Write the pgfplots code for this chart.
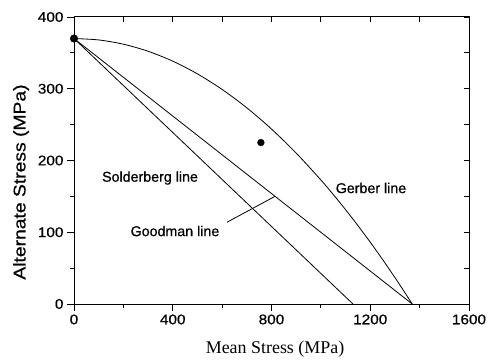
\documentclass[border=0pt]{standalone}
\usepackage{pgfplots}
\pgfplotsset{compat=1.18}
\usepackage{fontspec}
\setmainfont[FakeBold=0.5]{Liberation Sans}
\newfontfamily\annfont[FakeBold=0.6]{Liberation Sans}
\newfontfamily\tickfont[FakeStretch=1.1,FakeBold=0.6]{Liberation Sans}
\newfontfamily\ylabfont[FakeStretch=1.14,FakeBold=0.6]{Liberation Sans}
\newfontfamily\seriffont{Liberation Serif}
\begin{document}
\begin{tikzpicture}
\begin{axis}[
 at={(0,0)}, anchor=south west,
 scale only axis, width=395bp, height=287bp,
 xmin=0,xmax=1600,ymin=0,ymax=400,
 xtick={0,400,...,1600}, ytick={0,100,...,400},
 minor x tick num=1, minor y tick num=1,
 xtick pos=left, ytick pos=left, tick align=outside,
 major tick length=7bp, minor tick length=3.5bp,
 axis line style={line width=1bp},
 every tick/.style={black,line width=0.9bp},
 ticklabel style={font=\tickfont\fontsize{14}{16}\selectfont},
 /pgf/number format/assume math mode=true,
 /pgf/number format/1000 sep={},
 xlabel={Mean Stress (MPa)}, ylabel={Alternate Stress (MPa)},
 xlabel style={font=\seriffont\fontsize{18}{20}\selectfont, at={(axis description cs:0.509,-0.157)}, anchor=center},
 ylabel style={font=\ylabfont\fontsize{17}{19}\selectfont, at={(axis description cs:-0.134,0.425)}, anchor=center},
 clip=false,
]
% Gerber parabola
\addplot[black, line width=0.8bp, smooth, tension=0.5] coordinates {
 (0,370) (100,368.03) (200,362.11) (300,352.26) (400,338.46) (500,320.72)
 (600,299.04) (700,273.40) (800,243.83) (900,210.32) (1000,172.87)
 (1050,152.66) (1100,131.47) (1150,109.29) (1200,86.13) (1250,61.98)
 (1300,36.84) (1335,18.66) (1370,0)};
% Goodman line
\addplot[black, line width=0.8bp] coordinates {(0,370) (1370,0)};
% Soderberg line
\addplot[black, line width=0.8bp] coordinates {(0,370) (1130,0)};
% leader for Goodman label
\addplot[black, line width=0.8bp] coordinates {(620,114) (814,150)};
% points
\addplot[only marks, mark=*, mark size=3.8bp, black] coordinates {(0,370)};
\addplot[only marks, mark=*, mark size=3.4bp, black] coordinates {(757,225)};
\node[font=\annfont\fontsize{14.3}{16}\selectfont] at (axis cs:308,175.6) {Solderberg line};
\node[font=\annfont\fontsize{14.3}{16}\selectfont] at (axis cs:409,101.7) {Goodman line};
\node[font=\annfont\fontsize{14.3}{16}\selectfont] at (axis cs:1203,161.7) {Gerber line};
\end{axis}
\begin{axis}[
 at={(0,0)}, anchor=south west,
 scale only axis, width=395bp, height=287bp,
 xmin=0,xmax=1600,ymin=0,ymax=400,
 xtick={0,400,...,1600}, ytick={0,100,...,400},
 minor x tick num=1, minor y tick num=1,
 xtick pos=right, ytick pos=right, tick align=inside,
 major tick length=5bp, minor tick length=5bp,
 axis line style={line width=1bp},
 every tick/.style={black,line width=0.9bp},
 xticklabels={}, yticklabels={},
]
\end{axis}
\pgfresetboundingbox
\path[use as bounding box] (-74bp,-57bp) rectangle (428bp,304bp);
\end{tikzpicture}
\end{document}
